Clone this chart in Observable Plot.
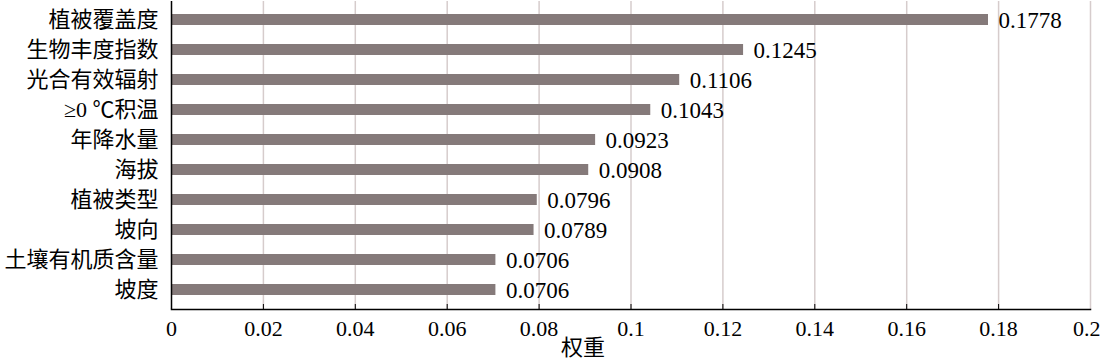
<!DOCTYPE html>
<html>
<head>
<meta charset="utf-8">
<script src="https://cdn.jsdelivr.net/npm/d3@7"></script>
<script src="https://cdn.jsdelivr.net/npm/@observablehq/plot@0.6"></script>
<style>
  html, body { margin: 0; padding: 0; background: #fff; }
  #chart svg { display: block; }
</style>
</head>
<body>
<div id="chart"></div>
<script>
const categories = ["植被覆盖度", "生物丰度指数", "光合有效辐射", "≥0 ℃积温", "年降水量", "海拔", "植被类型", "坡向", "土壤有机质含量", "坡度"];
const weights = [0.1778, 0.1245, 0.1106, 0.1043, 0.0923, 0.0908, 0.0796, 0.0789, 0.0706, 0.0706];
const xTicks = [0, 0.02, 0.04, 0.06, 0.08, 0.1, 0.12, 0.14, 0.16, 0.18, 0.2];
const xLabel = "权重";

const data = categories.map((c, i) => ({category: c, weight: weights[i]}));
const font = "'Liberation Serif', 'Times New Roman', 'Noto Sans CJK SC', serif";
const lastTick = xTicks[xTicks.length - 1];

const chart = Plot.plot({
  width: 1100,
  height: 360,
  marginLeft: 171,
  marginRight: 10,
  marginTop: 1,
  marginBottom: 51,
  style: {fontFamily: font, fontSize: "22px", color: "#000", background: "#fff"},
  x: {domain: [0, 0.2], ticks: xTicks},
  y: {domain: categories, paddingInner: 0.63, paddingOuter: 0.315, label: null},
  marks: [
    Plot.gridX(xTicks.filter(d => d > 0), {stroke: "#d6cccc", strokeOpacity: 1, strokeWidth: 1.5}),
    Plot.barX(data, {x: "weight", y: "category", fill: "#857a7a"}),
    Plot.text(data, {x: "weight", y: "category", text: d => d.weight.toFixed(4), textAnchor: "start", dx: 10, dy: 1, fill: "#000", fontSize: 23}),
    Plot.axisX({ticks: xTicks.filter(d => d !== lastTick), tickSize: -5, tickPadding: 16, tickFormat: d => String(d), label: null, fontSize: 22, stroke: "#000"}),
    Plot.axisX({ticks: [lastTick], tickSize: -5, tickPadding: 16, tickFormat: d => String(d), label: null, fontSize: 22, stroke: "#000", textAnchor: "end", dx: 10}),
    Plot.axisY({tickSize: 0, tickPadding: 13, label: null, fontSize: 22}),
    Plot.ruleX([0], {stroke: "#000", strokeWidth: 1.5}),
    Plot.frame({anchor: "bottom", stroke: "#000", strokeWidth: 1.5}),
    Plot.text([xLabel], {frameAnchor: "bottom", dy: 45, dx: -48, fontSize: 22, fill: "#000"})
  ]
});
document.getElementById("chart").appendChild(chart);
</script>
</body>
</html>
